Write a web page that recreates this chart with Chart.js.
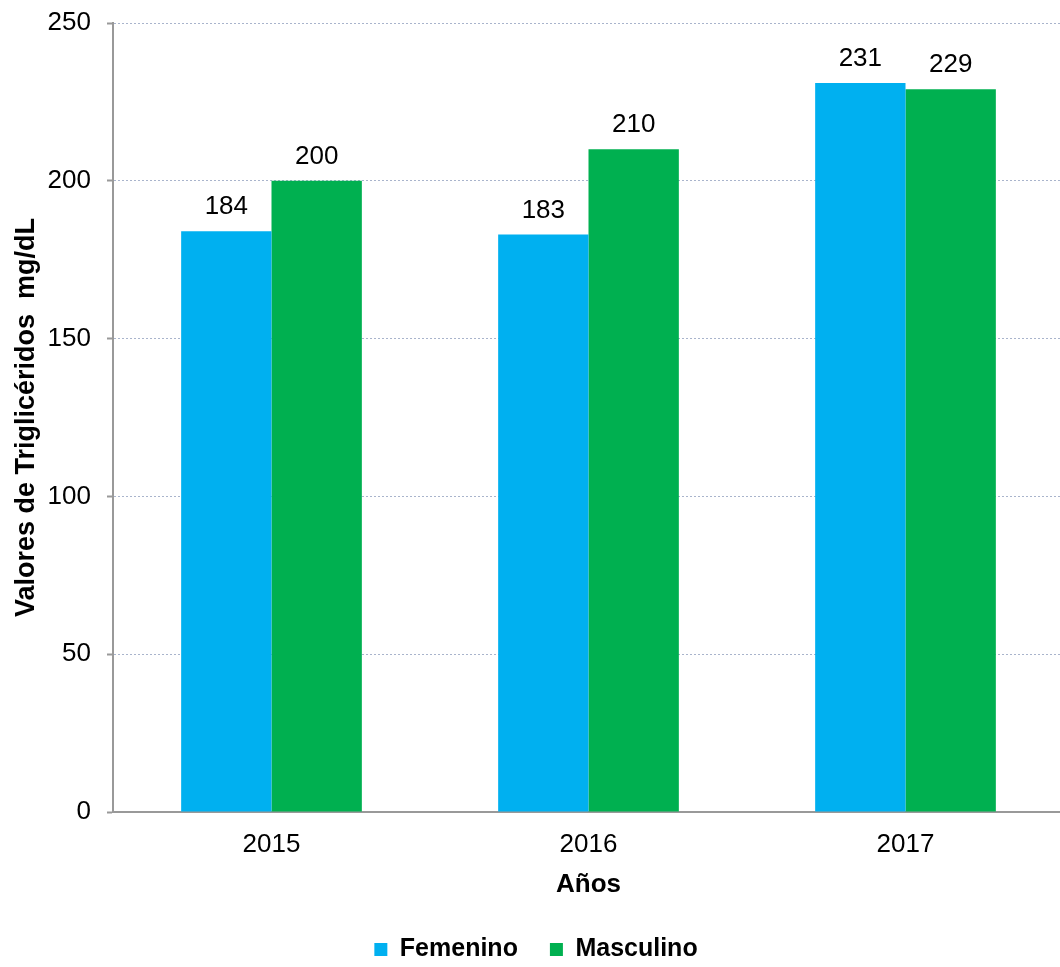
<!DOCTYPE html>
<html>
<head>
<meta charset="utf-8">
<script src="https://cdn.jsdelivr.net/npm/chart.js@4"></script>
<style>
  html, body { margin: 0; padding: 0; background: #fff; overflow: hidden; }
  #wrap { width: 1064px; height: 967px; }
</style>
</head>
<body>
<div id="wrap"><canvas id="chartResults"></canvas></div>
<script>
'use strict';

const years = ['2015', '2016', '2017'];
const femenino = [184, 183, 231];
const masculino = [200, 210, 229];
const yTicks = [0, 50, 100, 150, 200, 250];

const fontFamily = '"Liberation Sans", Arial, sans-serif';

// writes each bar's value above it
const valueLabels = {
    id: 'valueLabels',
    afterDatasetsDraw(chart) {
        const ctx = chart.ctx;
        ctx.save();
        ctx.font = '26px ' + fontFamily;
        ctx.fillStyle = '#000';
        ctx.textAlign = 'center';
        ctx.textBaseline = 'middle';
        chart.data.datasets.forEach((ds, i) => {
            chart.getDatasetMeta(i).data.forEach((bar, j) => {
                ctx.fillText(ds.data[j], bar.x, bar.y - 24);
            });
        });
        ctx.restore();
    }
};

const data = {
    labels: years,
    datasets: [
        {
            label: 'Femenino',
            backgroundColor: '#00B0F0',
            data: femenino,
        },
        {
            label: 'Masculino',
            backgroundColor: '#00B050',
            data: masculino,
        },
    ]
};

const config = {
    type: 'bar',
    data: data,
    options: {
        responsive: true,
        maintainAspectRatio: false,
        animation: false,
        categoryPercentage: 0.57,
        barPercentage: 1,
        layout: { padding: { top: 23, right: 0, left: 8, bottom: -5 } },
        plugins: {
            tooltip: { enabled: false },
            legend: {
                position: 'bottom',
                labels: {
                    boxWidth: 13,
                    boxHeight: 13,
                    padding: 32,
                    color: '#000',
                    font: { family: fontFamily, size: 25, weight: 'bold' },
                },
            },
        },
        scales: {
            x: {
                afterFit(scale) {
                    scale.height = 93;
                    scale.paddingLeft = 0;
                    scale.paddingRight = 0;
                },
                grid: { display: false },
                border: { color: '#999', width: 2 },
                ticks: {
                    color: '#000',
                    padding: 9,
                    font: { family: fontFamily, size: 26 },
                },
                title: {
                    display: true,
                    text: 'Años',
                    color: '#000',
                    padding: { top: 0, bottom: 5 },
                    font: { family: fontFamily, size: 26, weight: 'bold' },
                },
            },
            y: {
                min: 0,
                max: 250,
                afterBuildTicks(scale) {
                    scale.ticks = yTicks.map(v => ({ value: v }));
                },
                afterFit(scale) {
                    scale.width = 105;
                    scale.paddingTop = 0;
                    scale.paddingBottom = 0;
                },
                grid: {
                    color: '#A9B4CC',
                    tickColor: '#999',
                    tickLength: 6,
                    tickWidth: 2,
                },
                border: { color: '#999', width: 2, dash: [2, 2] },
                ticks: {
                    color: '#000',
                    padding: 16,
                    font: { family: fontFamily, size: 26 },
                },
                title: {
                    display: true,
                    text: 'Valores de Triglicéridos  mg/dL',
                    color: '#000',
                    padding: { top: 2, bottom: 10 },
                    font: { family: fontFamily, size: 27, weight: 'bold' },
                },
            },
        },
    },
    plugins: [valueLabels],
};

const chartResults = new Chart(document.getElementById('chartResults'), config);
</script>
</body>
</html>
